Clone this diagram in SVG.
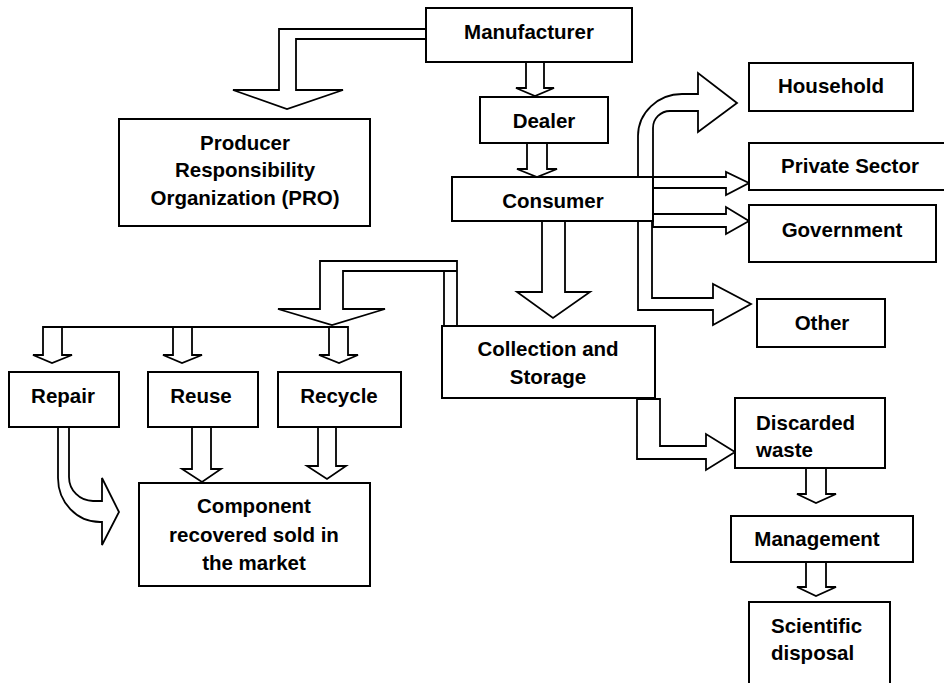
<svg xmlns="http://www.w3.org/2000/svg" width="944" height="683" viewBox="0 0 944 683">
<style>
.box{fill:#fff;stroke:#000;stroke-width:2}
.arr{fill:#fff;stroke:#000;stroke-width:1.8;stroke-linejoin:miter}
.ln{fill:none;stroke:#000;stroke-width:2}
text{font-family:"Liberation Sans",Arial,sans-serif;font-weight:bold;font-size:20.5px;fill:#000}
.c{text-anchor:middle}
</style>
<rect width="944" height="683" fill="#fff"/>
<g id="connectors">
<polygon class="arr" points="426,29 279,29 279,90 233,90 287,109 343,90 296,90 296,39 426,39"/>
<polygon class="arr" points="526,62 526,88 516,88 535,96 554,88 544,88 544,62"/>
<polygon class="arr" points="527,143 527,169 517,169 537,177 557,169 547,169 547,143"/>
<polygon class="arr" points="542,221 542,292 517,292 553,318 590,292 565,292 565,221"/>
<path class="arr" d="M638,177 L638,136 A44,42 0 0 1 682,94 L698,94 L698,73 L737,103 L698,132 L698,111 L670,111 A17,17 0 0 0 653,128 L653,177 Z"/>
<polygon class="arr" points="653,177 726,177 726,172 749,183 726,195 726,188 653,188"/>
<polygon class="arr" points="653,214 726,214 726,207 749,221 726,234 726,227 653,227"/>
<polygon class="arr" points="638,221 638,310 713,310 713,325 751,304 713,284 713,298 652,298 652,221"/>
<polygon class="arr" points="457,326 457,261 320,261 320,309 278,309 332,325 385,309 343,309 343,271 444,271 444,326"/>
<line class="ln" x1="444" y1="271" x2="457" y2="271"/>
<line class="ln" x1="43" y1="327" x2="348" y2="327"/>
<polygon class="arr" points="43,327 43,355 33,355 52,363 72,355 62,355 62,327"/>
<polygon class="arr" points="173,327 173,355 163,355 182,363 202,355 192,355 192,327"/>
<polygon class="arr" points="329,327 329,355 319,355 339,363 358,355 348,355 348,327"/>
<polygon class="arr" points="192,426 192,469 182,469 202,482 221,469 211,469 211,426"/>
<polygon class="arr" points="318,427 318,466 307,466 327,479 346,466 336,466 336,427"/>
<path class="arr" d="M58,426 L58,478 A42,44 0 0 0 100,522 L102,522 L102,545 L119,512 L102,478 L102,501 L93,501 A24,24 0 0 1 69,477 L69,426 Z"/>
<polygon class="arr" points="637,398 637,459 706,459 706,470 735,452 706,434 706,446 660,446 660,399 637,399"/>
<polygon class="arr" points="806,468 806,494 797,494 816,503 836,494 826,494 826,468"/>
<polygon class="arr" points="806,562 806,587 797,587 816,596 836,587 826,587 826,562"/>
</g>
<g id="manufacturer"><rect class="box" x="426" y="8" width="206" height="54"/><text class="c" x="529" y="39">Manufacturer</text></g>
<g id="pro"><rect class="box" x="119" y="119" width="251" height="107"/><text class="c" x="245" y="150">Producer</text><text class="c" x="245" y="177">Responsibility</text><text class="c" x="245" y="205">Organization (PRO)</text></g>
<g id="dealer"><rect class="box" x="480" y="97" width="128" height="46"/><text class="c" x="544" y="128">Dealer</text></g>
<g id="consumer"><rect class="box" x="452" y="177" width="201" height="44"/><text class="c" x="553" y="208">Consumer</text></g>
<g id="household"><rect class="box" x="749" y="63" width="164" height="48"/><text class="c" x="831" y="93">Household</text></g>
<g id="private-sector"><rect class="box" x="749" y="143" width="200" height="47"/><text class="c" x="850" y="173">Private Sector</text></g>
<g id="government"><rect class="box" x="749" y="205" width="187" height="57"/><text class="c" x="842" y="237">Government</text></g>
<g id="other"><rect class="box" x="757" y="299" width="128" height="48"/><text class="c" x="822" y="330">Other</text></g>
<g id="collection"><rect class="box" x="442" y="326" width="213" height="72"/><text class="c" x="548" y="356">Collection and</text><text class="c" x="548" y="384">Storage</text></g>
<g id="repair"><rect class="box" x="9" y="372" width="110" height="55"/><text class="c" x="63" y="403">Repair</text></g>
<g id="reuse"><rect class="box" x="148" y="372" width="110" height="55"/><text class="c" x="201" y="403">Reuse</text></g>
<g id="recycle"><rect class="box" x="278" y="372" width="123" height="55"/><text class="c" x="339" y="403">Recycle</text></g>
<g id="component"><rect class="box" x="139" y="483" width="231" height="103"/><text class="c" x="254" y="513">Component</text><text class="c" x="254" y="542">recovered sold in</text><text class="c" x="254" y="570">the market</text></g>
<g id="discarded"><rect class="box" x="735" y="398" width="150" height="70"/><text x="756" y="430">Discarded</text><text x="756" y="457">waste</text></g>
<g id="management"><rect class="box" x="731" y="516" width="182" height="46"/><text class="c" x="817" y="546">Management</text></g>
<g id="scientific"><rect class="box" x="749" y="602" width="141" height="90"/><text x="771" y="633">Scientific</text><text x="771" y="660">disposal</text></g>
</svg>
